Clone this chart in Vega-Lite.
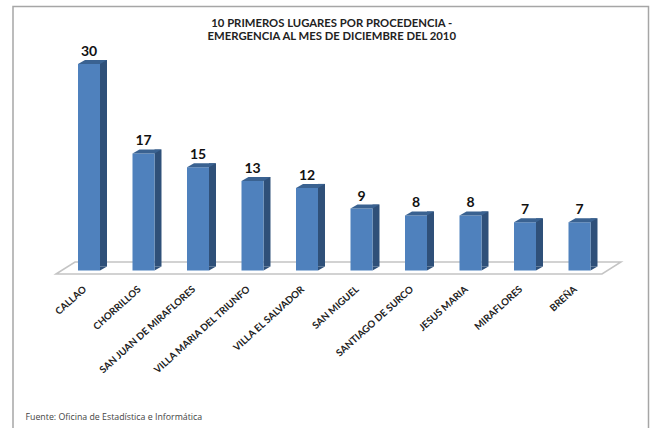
{
"$schema":"https://vega.github.io/schema/vega-lite/v6.json",
"width":635.5,"height":424.5,
"autosize":{"type":"none"},
"padding":{"left":13,"top":6.5,"right":3.5,"bottom":0},
"background":"#ffffff",
"title":{"text":["10 PRIMEROS LUGARES POR PROCEDENCIA -","EMERGENCIA AL MES DE DICIEMBRE DEL 2010"],"font":"Lato","fontSize":11.3,"fontWeight":"bold","color":"#222222","anchor":"start","align":"center","dx":318.75,"dy":36,"lineHeight":13,"offset":0,"frame":"group"},
"data":{"values":[
{"lugar":"CALLAO","casos":30},
{"lugar":"CHORRILLOS","casos":17},
{"lugar":"SAN JUAN DE MIRAFLORES","casos":15},
{"lugar":"VILLA MARIA DEL TRIUNFO","casos":13},
{"lugar":"VILLA EL SALVADOR","casos":12},
{"lugar":"SAN MIGUEL","casos":9},
{"lugar":"SANTIAGO DE SURCO","casos":8},
{"lugar":"JESUS MARIA","casos":8},
{"lugar":"MIRAFLORES","casos":7},
{"lugar":"BREÑA","casos":7}
]},
"encoding":{
"x":{"field":"lugar","type":"nominal","sort":null,"scale":{"range":[48.75,593.75],"paddingInner":0.6,"paddingOuter":0.3},
"axis":{"offset":-160.5,"title":"Fuente: Oficina de Estadística e Informática","titleFont":"Open Sans","titleFontSize":8.8,"titleFontWeight":"normal","titleColor":"#444444","titleAnchor":"start","titleAlign":"left","titleX":12,"titleY":142,"labelAngle":-42,"labelAlign":"right","labelBaseline":"middle","labelFont":"Lato","labelFontSize":9.7,"labelFontWeight":"bold","labelColor":"#222222","labelPadding":17,"labelOffset":-4,"labelOverlap":false,"labelLimit":200,"domain":false,"ticks":false,"grid":false}},
"y":{"field":"casos","type":"quantitative","scale":{"domain":[0,30],"nice":false,"range":[264,57.5]},"axis":null}
},
"layer":[
{"mark":{"type":"point","shape":"M -33 3.5 L -14 -8.5 L 532 -8.5 L 513 3.5 Z","filled":false,"stroke":"#c4c4c4","strokeWidth":1.5,"size":4,"opacity":1},"transform":[{"filter":"datum.lugar==='CALLAO'"}],"encoding":{"y":{"datum":0}}},
{"mark":{"type":"bar","size":7,"xOffset":14.5,"yOffset":-4,"y2Offset":-4,"color":"#2f5079"}},
{"mark":{"type":"point","shape":"M 11 0 L 18 -4 L 11 -4 Z","filled":true,"color":"#2f5079","size":4,"opacity":1},"encoding":{"y":{"datum":0}}},
{"mark":{"type":"bar","size":22,"color":"#4f81bd"}},
{"mark":{"type":"point","shape":"M -11 0 L 11 0 L 18 -4 L -4 -4 Z","filled":true,"color":"#3a6291","size":4,"opacity":1}},
{"mark":{"type":"text","font":"Lato","fontSize":14,"fontWeight":"bold","color":"#111111","dy":-12},"encoding":{"text":{"field":"casos","type":"quantitative"}}}
],
"config":{"view":{"stroke":"#a6a6a6","strokeWidth":1.5}}
}
